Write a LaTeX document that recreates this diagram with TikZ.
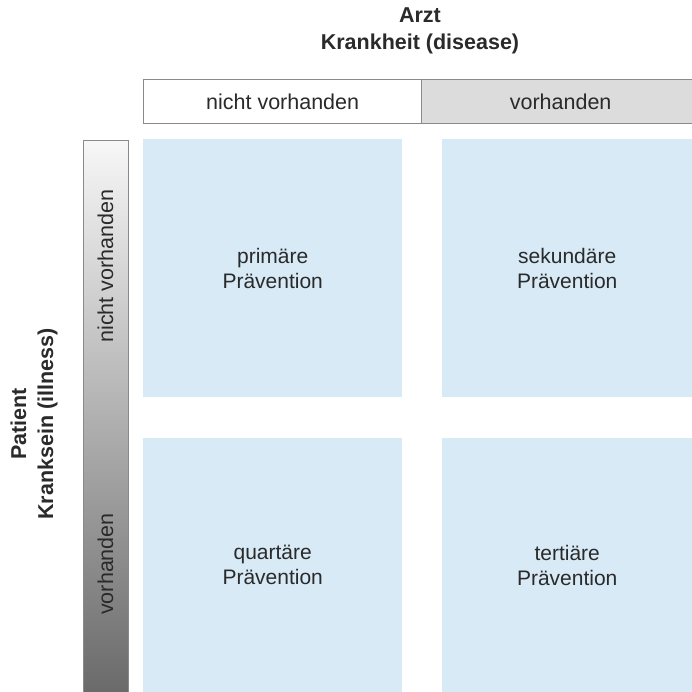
\documentclass[tikz,border=0pt]{standalone}
\usepackage{fontspec}
\setmainfont{Liberation Sans}
\definecolor{linegray}{HTML}{8A8A8A}
\definecolor{cellgray}{HTML}{DCDCDD}
\definecolor{qblue}{HTML}{D7EAF6}
\definecolor{txt}{HTML}{2A2A2A}
\definecolor{bartop}{HTML}{F7F7F7}
\definecolor{barbot}{HTML}{686868}
\begin{document}
\begin{tikzpicture}[x=1pt,y=-1pt,
  cell/.style={draw=linegray, line width=1.3pt, minimum height=44pt, inner sep=0pt,
    anchor=north west, font=\fontsize{21.5}{25}\selectfont, text=txt},
  quad/.style={fill=qblue, inner sep=0pt, anchor=north west, align=center,
    font=\fontsize{21}{25}\selectfont, text=txt},
  title/.style={anchor=base, inner sep=0pt, font=\fontsize{21.5}{27}\selectfont\bfseries, text=txt},
  bartext/.style={rotate=90, font=\fontsize{21.5}{25}\selectfont, text=txt}]
\useasboundingbox (0,0) rectangle (691,692);
% titles
\node[title] (arzt) at (420,23) {Arzt};
\node[title] (krank) at (420,50) {Krankheit (disease)};
\node[title, rotate=90] (patient) at (26,424) {Patient};
\node[title, rotate=90] (kranksein) at (53,424) {Kranksein (illness)};
% header
\node[cell, fill=white, minimum width=278pt] (hnv) at (143,79) {nicht vorhanden};
\node[cell, fill=cellgray, minimum width=278pt] (hv) at (421,79) {vorhanden};
% left bar
\node[draw=linegray, line width=1.2pt, top color=bartop, bottom color=barbot,
  minimum width=45pt, minimum height=560pt, inner sep=0pt, anchor=north west] (bar) at (83,140) {};
\node[bartext] (bnv) at (105.5,266) {nicht vorhanden};
\node[bartext] (bv) at (105.5,564) {vorhanden};
% quadrants
\node[quad, minimum width=259pt, minimum height=258pt] (q1) at (143,139) {primäre\\Prävention};
\node[quad, minimum width=250pt, minimum height=258pt] (q2) at (442,139) {sekundäre\\Prävention};
\node[quad, minimum width=259pt, minimum height=254pt] (q3) at (143,438) {quartäre\\Prävention};
\node[quad, minimum width=250pt, minimum height=254pt] (q4) at (442,438) {tertiäre\\Prävention};
\end{tikzpicture}
\end{document}
